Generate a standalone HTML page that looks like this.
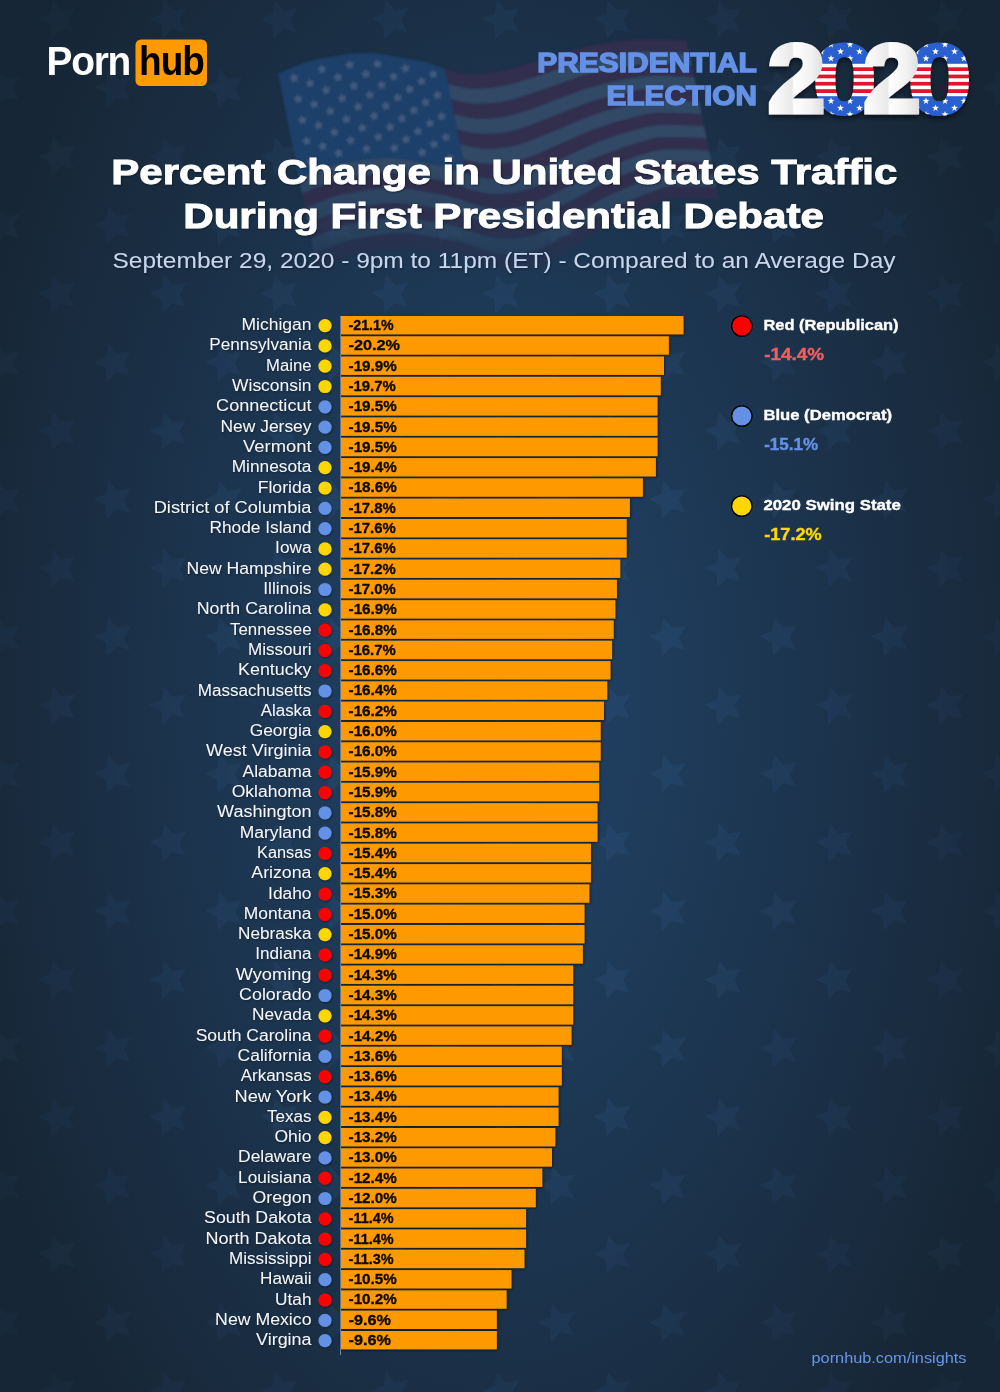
<!DOCTYPE html>
<html lang="en"><head><meta charset="utf-8"><title>Percent Change in United States Traffic During First Presidential Debate</title>
<style>
html,body{margin:0;padding:0;background:#172636;}
body{width:1000px;height:1392px;overflow:hidden;}
svg{display:block;font-family:"Liberation Sans",Arial,sans-serif;}
.st{font-size:16px;fill:#f4f6fa;text-anchor:end;}
.val{font-size:14px;font-weight:700;fill:#0a0a0a;stroke:#0a0a0a;stroke-width:0.3;}
.lg{font-size:14.6px;font-weight:700;fill:#ffffff;stroke:#ffffff;stroke-width:0.35;}
.lv{font-size:17.4px;font-weight:700;}
.ttl{font-size:35px;font-weight:700;fill:#ffffff;stroke:#ffffff;stroke-width:0.9;}
.sub{font-size:22.5px;fill:#c7d6ef;}
.pe{font-size:27px;font-weight:700;fill:#6491e6;stroke:#6491e6;stroke-width:1.4;text-anchor:end;}
</style></head><body>
<svg width="1000" height="1392" viewBox="0 0 1000 1392">
<defs>
<radialGradient id="bg" cx="0" cy="0" r="1" gradientUnits="userSpaceOnUse" gradientTransform="translate(500 696) scale(560 1010)">
<stop offset="0" stop-color="#214164"/><stop offset="0.25" stop-color="#1f3d5d"/><stop offset="1" stop-color="#172636"/>
</radialGradient>
<radialGradient id="smg" cx="0" cy="0" r="1" gradientUnits="userSpaceOnUse" gradientTransform="translate(500 696) scale(560 1010)">
<stop offset="0" stop-color="#ffffff"/><stop offset="0.4" stop-color="#e0e0e0"/><stop offset="1" stop-color="#6a6a6a"/>
</radialGradient>
<mask id="smask" maskUnits="userSpaceOnUse" x="0" y="0" width="1000" height="1392"><rect width="1000" height="1392" fill="url(#smg)"/></mask>
<filter id="sblur"><feGaussianBlur stdDeviation="0.7"/></filter>
<pattern id="bgstars" x="3" y="19.6" width="111" height="137.2" patternUnits="userSpaceOnUse">
<use href="#fstar" transform="translate(55.5 0) rotate(-16) scale(2.05)" fill="#5a9ae0"/>
<use href="#fstar" transform="translate(55.5 137.2) rotate(-16) scale(2.05)" fill="#5a9ae0"/>
<use href="#fstar" transform="translate(0 68.6) rotate(-16) scale(2.05)" fill="#5a9ae0"/>
<use href="#fstar" transform="translate(111 68.6) rotate(-16) scale(2.05)" fill="#5a9ae0"/>
</pattern>
<filter id="sh" x="-5%" y="-20%" width="110%" height="160%"><feDropShadow dx="0.7" dy="1" stdDeviation="1.5" flood-color="#000" flood-opacity="0.6"/></filter>
<filter id="tsh" x="-5%" y="-5%" width="110%" height="110%"><feDropShadow dx="0.8" dy="1" stdDeviation="1" flood-color="#000" flood-opacity="0.4"/></filter>
<filter id="sh2" x="-10%" y="-10%" width="120%" height="130%"><feDropShadow dx="0" dy="3" stdDeviation="2.5" flood-color="#000" flood-opacity="0.55"/></filter>
<path id="fstar" d="M0.00,-10.00 L2.82,-3.88 L9.51,-3.09 L4.57,1.48 L5.88,8.09 L0.00,4.80 L-5.88,8.09 L-4.57,1.48 L-9.51,-3.09 L-2.82,-3.88Z"/>
<path id="star" d="M0,-10 L2.35,-3.24 9.51,-3.09 3.8,1.24 5.88,8.09 0,4 -5.88,8.09 -3.8,1.24 -9.51,-3.09 -2.35,-3.24Z"/>
<linearGradient id="paper" x1="0" y1="0" x2="1" y2="0">
<stop offset="0" stop-color="#ffffff"/><stop offset="0.42" stop-color="#e9e9e9"/><stop offset="0.46" stop-color="#ffffff"/><stop offset="0.75" stop-color="#f2f2f2"/><stop offset="1" stop-color="#dcdcdc"/>
</linearGradient>
<pattern id="flagpat" x="0" y="42" width="19" height="74" patternUnits="userSpaceOnUse">
<rect x="0" y="0" width="19" height="74" fill="#2a5fd0"/>
<rect x="0" y="21.8" width="19" height="32.4" fill="#ffffff"/>
<rect x="0" y="25.3" width="19" height="3.7" fill="#e1122d"/>
<rect x="0" y="32.6" width="19" height="3.7" fill="#e1122d"/>
<rect x="0" y="39.9" width="19" height="3.7" fill="#e1122d"/>
<rect x="0" y="47.2" width="19" height="3.8" fill="#e1122d"/>
<use href="#star" transform="translate(4.5 9.5) scale(0.36)" fill="#fff"/>
<use href="#star" transform="translate(14 16.5) scale(0.36)" fill="#fff"/>
<use href="#star" transform="translate(14 2.5) scale(0.36)" fill="#fff"/>
<use href="#star" transform="translate(4.5 66) scale(0.36)" fill="#fff"/>
<use href="#star" transform="translate(14 59) scale(0.36)" fill="#fff"/>
<use href="#star" transform="translate(14 72.5) scale(0.36)" fill="#fff"/>
</pattern>
</defs>
<rect width="1000" height="1392" fill="url(#bg)"/>
<g mask="url(#smask)"><rect width="1000" height="1392" fill="url(#bgstars)" opacity="0.085" filter="url(#sblur)"/></g>

<defs><linearGradient id="ffade" x1="0" y1="0" x2="0" y2="1" gradientUnits="userSpaceOnUse" gradientTransform="translate(0 160) scale(1 130)"><stop offset="0" stop-color="#fff"/><stop offset="0.5" stop-color="#aaa"/><stop offset="1" stop-color="#000"/></linearGradient>
<mask id="fmask" maskUnits="userSpaceOnUse" x="250" y="30" width="500" height="260"><rect x="250" y="30" width="500" height="260" fill="url(#ffade)"/></mask>
<filter id="fblur"><feGaussianBlur stdDeviation="0.8"/></filter></defs>
<g mask="url(#fmask)"><g filter="url(#fblur)">
<path d="M445.0,69.0 L452.0,71.0 L459.0,72.6 L466.0,73.6 L473.0,73.8 L480.0,73.5 L487.0,72.9 L494.0,71.9 L501.0,70.7 L508.0,69.2 L515.0,67.5 L522.0,65.5 L529.0,63.5 L536.0,61.4 L543.0,59.2 L550.0,57.0 L557.0,54.8 L564.0,52.5 L571.0,50.3 L578.0,48.5 L585.0,46.9 L592.0,45.5 L599.0,44.2 L606.0,43.0 L613.0,42.0 L620.0,41.1 L627.0,40.3 L634.0,39.8 L641.0,39.5 L648.0,39.4 L655.0,39.5 L662.0,39.5 L669.0,39.8 L676.0,40.2 L683.0,40.6 L687.0,40.8 L689.4,53.0 L685.4,52.8 L678.4,52.4 L671.4,52.0 L664.4,51.7 L657.4,51.7 L650.4,51.6 L643.4,51.7 L636.5,52.1 L629.5,52.8 L622.5,53.7 L615.5,54.7 L608.6,55.9 L601.6,57.2 L594.6,58.7 L587.7,60.2 L580.7,61.9 L573.7,63.9 L566.7,66.2 L559.8,68.6 L552.8,71.0 L545.8,73.3 L538.9,75.7 L531.9,77.9 L524.9,80.1 L517.9,82.2 L511.0,84.0 L504.0,85.6 L497.0,86.9 L490.0,87.9 L483.0,88.5 L476.0,88.8 L469.0,88.6 L462.0,87.6 L455.0,86.0 L448.0,84.0Z M451.0,99.0 L458.0,101.0 L465.0,102.6 L472.0,103.6 L479.0,103.8 L486.0,103.5 L493.0,102.9 L500.0,101.9 L507.0,100.6 L513.9,98.9 L520.9,96.9 L527.8,94.6 L534.8,92.3 L541.7,89.9 L548.7,87.5 L555.6,85.0 L562.5,82.5 L569.5,79.9 L576.4,77.5 L583.4,75.3 L590.3,73.5 L597.3,71.8 L604.2,70.3 L611.2,68.8 L618.1,67.5 L625.0,66.3 L632.0,65.2 L638.9,64.4 L645.9,63.9 L652.9,63.8 L659.9,63.9 L666.9,63.9 L673.9,64.2 L680.9,64.6 L687.9,65.0 L691.9,65.2 L694.3,77.4 L690.3,77.2 L683.3,76.8 L676.3,76.4 L669.3,76.1 L662.3,76.1 L655.3,76.0 L648.3,76.1 L641.4,76.8 L634.5,77.7 L627.6,78.9 L620.6,80.2 L613.7,81.7 L606.8,83.3 L599.9,85.0 L593.0,86.8 L586.1,88.8 L579.1,91.1 L572.2,93.7 L565.3,96.4 L558.4,99.0 L551.5,101.6 L544.6,104.2 L537.7,106.8 L530.7,109.2 L523.8,111.6 L516.9,113.7 L510.0,115.6 L503.0,116.9 L496.0,117.9 L489.0,118.5 L482.0,118.8 L475.0,118.6 L468.0,117.6 L461.0,116.0 L454.0,114.0Z M457.0,129.0 L464.0,131.0 L471.0,132.6 L478.0,133.6 L485.0,133.8 L492.0,133.5 L499.0,132.9 L506.0,131.9 L513.0,130.6 L519.9,128.5 L526.8,126.3 L533.6,123.8 L540.5,121.2 L547.4,118.5 L554.3,115.7 L561.2,113.0 L568.1,110.2 L575.0,107.4 L581.9,104.7 L588.8,102.2 L595.6,100.1 L602.5,98.2 L609.4,96.3 L616.3,94.6 L623.2,92.9 L630.1,91.5 L637.0,90.1 L643.9,89.1 L650.8,88.3 L657.8,88.2 L664.8,88.3 L671.8,88.3 L678.8,88.6 L685.8,89.0 L692.8,89.4 L696.8,89.6 L699.2,101.8 L695.2,101.6 L688.2,101.2 L681.2,100.8 L674.2,100.5 L667.2,100.5 L660.2,100.4 L653.2,100.5 L646.3,101.4 L639.5,102.6 L632.6,104.1 L625.7,105.7 L618.9,107.4 L612.0,109.3 L605.2,111.3 L598.3,113.4 L591.4,115.7 L584.6,118.2 L577.7,121.1 L570.9,124.1 L564.0,127.0 L557.1,129.9 L550.3,132.8 L543.4,135.6 L536.6,138.3 L529.7,141.0 L522.8,143.4 L516.0,145.6 L509.0,146.9 L502.0,147.9 L495.0,148.5 L488.0,148.8 L481.0,148.6 L474.0,147.6 L467.0,146.0 L460.0,144.0Z M463.0,159.0 L470.0,161.0 L477.0,162.6 L484.0,163.6 L491.0,163.8 L498.0,163.5 L505.0,162.9 L512.0,161.9 L519.0,160.5 L525.8,158.2 L532.6,155.7 L539.5,152.9 L546.3,150.0 L553.1,147.1 L560.0,144.0 L566.8,141.0 L573.6,137.9 L580.5,134.8 L587.3,131.8 L594.1,129.1 L601.0,126.7 L607.8,124.5 L614.6,122.3 L621.5,120.3 L628.3,118.4 L635.1,116.7 L642.0,115.1 L648.8,113.7 L655.6,112.7 L662.6,112.6 L669.6,112.7 L676.6,112.7 L683.6,113.0 L690.6,113.4 L697.6,113.8 L701.6,114.0 L704.1,126.2 L700.1,126.0 L693.1,125.6 L686.1,125.2 L679.1,124.9 L672.1,124.9 L665.1,124.8 L658.1,124.9 L651.2,126.0 L644.4,127.5 L637.6,129.3 L630.8,131.2 L624.0,133.2 L617.2,135.4 L610.4,137.6 L603.6,140.0 L596.8,142.5 L590.0,145.4 L583.2,148.5 L576.4,151.8 L569.6,155.0 L562.8,158.2 L556.0,161.3 L549.2,164.4 L542.4,167.4 L535.6,170.4 L528.8,173.1 L522.0,175.5 L515.0,176.9 L508.0,177.9 L501.0,178.5 L494.0,178.8 L487.0,178.6 L480.0,177.6 L473.0,176.0 L466.0,174.0Z M302.0,193.6 L309.0,190.5 L316.0,187.5 L323.0,184.7 L330.0,182.2 L337.0,180.2 L344.0,178.7 L351.0,177.4 L358.0,176.3 L365.0,175.3 L372.0,174.3 L379.0,173.5 L386.0,173.0 L393.0,173.0 L400.0,173.6 L407.0,174.5 L414.0,175.6 L421.0,176.8 L428.0,178.0 L435.0,179.2 L442.0,180.5 L449.0,182.0 L456.0,184.1 L463.0,186.9 L470.0,189.3 L477.0,191.2 L484.0,192.8 L491.0,193.7 L498.0,193.8 L505.0,193.4 L512.0,192.8 L519.0,191.8 L525.9,190.1 L532.7,187.5 L539.5,184.6 L546.3,181.6 L553.0,178.4 L559.8,175.2 L566.6,171.8 L573.4,168.5 L580.1,165.2 L586.9,161.8 L593.7,158.5 L600.5,155.6 L607.2,153.0 L614.0,150.4 L620.8,148.0 L627.6,145.8 L634.4,143.6 L641.1,141.6 L647.9,139.7 L654.7,138.1 L661.5,137.1 L668.5,137.0 L675.5,137.1 L682.5,137.1 L689.5,137.4 L696.5,137.8 L703.5,138.3 L706.5,138.4 L709.0,150.6 L706.0,150.5 L699.0,150.0 L692.0,149.6 L685.0,149.3 L678.0,149.3 L671.0,149.2 L664.0,149.3 L657.1,150.4 L650.4,152.2 L643.6,154.2 L636.9,156.3 L630.1,158.6 L623.4,161.0 L616.7,163.6 L609.9,166.2 L603.2,169.0 L596.4,172.1 L589.7,175.5 L582.9,179.0 L576.2,182.5 L569.4,185.9 L562.7,189.4 L555.9,192.8 L549.2,196.1 L542.4,199.3 L535.7,202.3 L528.9,205.1 L522.0,206.8 L515.0,207.8 L508.0,208.4 L501.0,208.8 L494.0,208.7 L487.0,207.8 L480.0,206.2 L473.0,204.3 L466.0,201.9 L459.0,199.1 L452.0,197.0 L445.0,195.5 L438.0,194.2 L431.0,193.0 L424.0,191.8 L417.0,190.6 L410.0,189.5 L403.0,188.6 L396.0,188.0 L389.0,188.0 L382.0,188.5 L375.0,189.3 L368.0,190.3 L361.0,191.3 L354.0,192.4 L347.0,193.7 L340.0,195.2 L333.0,197.2 L326.0,199.7 L319.0,202.5 L312.0,205.5 L305.0,208.6Z M308.0,223.6 L315.0,220.5 L322.0,217.5 L329.0,214.7 L336.0,212.2 L343.0,210.2 L350.0,208.7 L357.0,207.4 L364.0,206.3 L371.0,205.3 L378.0,204.3 L385.0,203.5 L392.0,203.0 L399.0,203.0 L406.0,203.6 L413.0,204.5 L420.0,205.6 L427.0,206.8 L434.0,208.0 L441.0,209.2 L448.0,210.5 L455.0,212.0 L462.0,214.1 L469.0,216.9 L476.0,219.3 L483.0,221.2 L490.0,222.8 L497.0,223.7 L504.0,223.8 L511.0,223.4 L518.0,222.8 L525.0,221.8 L531.9,220.1 L538.6,217.1 L545.4,214.0 L552.1,210.6 L558.8,207.2 L565.5,203.7 L572.2,200.1 L579.0,196.5 L585.7,192.9 L592.4,189.2 L599.1,185.6 L605.8,182.4 L612.6,179.5 L619.3,176.7 L626.0,174.0 L632.7,171.5 L639.4,169.0 L646.2,166.7 L652.9,164.6 L659.6,162.7 L666.4,161.5 L673.4,161.4 L680.4,161.5 L687.4,161.5 L694.4,161.8 L701.4,162.2 L708.4,162.7 L711.4,162.8 L713.8,175.0 L710.8,174.9 L703.8,174.4 L696.8,174.0 L689.8,173.7 L682.8,173.7 L675.8,173.6 L668.8,173.7 L662.1,175.0 L655.4,177.1 L648.7,179.3 L642.0,181.8 L635.3,184.3 L628.6,187.0 L621.9,189.9 L615.2,192.8 L608.5,195.8 L601.8,199.2 L595.1,202.9 L588.4,206.7 L581.8,210.5 L575.1,214.2 L568.4,217.9 L561.7,221.6 L555.0,225.2 L548.3,228.7 L541.6,232.0 L534.9,235.0 L528.0,236.8 L521.0,237.8 L514.0,238.4 L507.0,238.8 L500.0,238.7 L493.0,237.8 L486.0,236.2 L479.0,234.3 L472.0,231.9 L465.0,229.1 L458.0,227.0 L451.0,225.5 L444.0,224.2 L437.0,223.0 L430.0,221.8 L423.0,220.6 L416.0,219.5 L409.0,218.6 L402.0,218.0 L395.0,218.0 L388.0,218.5 L381.0,219.3 L374.0,220.3 L367.0,221.3 L360.0,222.4 L353.0,223.7 L346.0,225.2 L339.0,227.2 L332.0,229.7 L325.0,232.5 L318.0,235.5 L311.0,238.6Z M314.0,253.6 L321.0,250.5 L328.0,247.5 L335.0,244.7 L342.0,242.2 L349.0,240.2 L356.0,238.7 L363.0,237.4 L370.0,236.3 L377.0,235.3 L384.0,234.3 L391.0,233.5 L398.0,233.0 L405.0,233.0 L412.0,233.6 L419.0,234.5 L426.0,235.6 L433.0,236.8 L440.0,238.0 L447.0,239.2 L454.0,240.5 L461.0,242.0 L468.0,244.1 L475.0,246.9 L482.0,249.3 L489.0,251.2 L496.0,252.8 L503.0,253.7 L510.0,253.8 L517.0,253.4 L524.0,252.8 L531.0,251.8 L537.9,250.0 L544.6,246.8 L551.2,243.3 L557.9,239.7 L564.6,236.0 L571.2,232.2 L577.9,228.3 L584.6,224.5 L591.2,220.5 L597.9,216.6 L604.5,212.8 L611.2,209.3 L617.9,206.1 L624.5,203.0 L631.2,200.0 L637.9,197.2 L644.5,194.5 L651.2,191.9 L657.9,189.5 L664.5,187.3 L671.3,185.9 L678.3,185.8 L685.3,185.9 L692.3,185.9 L699.3,186.2 L706.3,186.6 L713.3,187.1 L716.3,187.2 L718.7,199.4 L715.7,199.3 L708.7,198.8 L701.7,198.4 L694.7,198.1 L687.7,198.1 L680.7,198.0 L673.7,198.1 L667.0,199.6 L660.3,201.9 L653.7,204.5 L647.1,207.2 L640.4,210.1 L633.8,213.0 L627.2,216.1 L620.5,219.4 L613.9,222.7 L607.3,226.3 L600.6,230.3 L594.0,234.4 L587.3,238.4 L580.7,242.4 L574.1,246.5 L567.4,250.4 L560.8,254.3 L554.2,258.0 L547.5,261.6 L540.9,264.9 L534.0,266.8 L527.0,267.8 L520.0,268.4 L513.0,268.8 L506.0,268.7 L499.0,267.8 L492.0,266.2 L485.0,264.3 L478.0,261.9 L471.0,259.1 L464.0,257.0 L457.0,255.5 L450.0,254.2 L443.0,253.0 L436.0,251.8 L429.0,250.6 L422.0,249.5 L415.0,248.6 L408.0,248.0 L401.0,248.0 L394.0,248.5 L387.0,249.3 L380.0,250.3 L373.0,251.3 L366.0,252.4 L359.0,253.7 L352.0,255.2 L345.0,257.2 L338.0,259.7 L331.0,262.5 L324.0,265.5 L317.0,268.6Z" fill="#332d4e"/>
<path d="M448.0,84.0 L455.0,86.0 L462.0,87.6 L469.0,88.6 L476.0,88.8 L483.0,88.5 L490.0,87.9 L497.0,86.9 L504.0,85.6 L511.0,84.0 L517.9,82.2 L524.9,80.1 L531.9,77.9 L538.9,75.7 L545.8,73.3 L552.8,71.0 L559.8,68.6 L566.7,66.2 L573.7,63.9 L580.7,61.9 L587.7,60.2 L594.6,58.7 L601.6,57.2 L608.6,55.9 L615.5,54.7 L622.5,53.7 L629.5,52.8 L636.5,52.1 L643.4,51.7 L650.4,51.6 L657.4,51.7 L664.4,51.7 L671.4,52.0 L678.4,52.4 L685.4,52.8 L689.4,53.0 L691.9,65.2 L687.9,65.0 L680.9,64.6 L673.9,64.2 L666.9,63.9 L659.9,63.9 L652.9,63.8 L645.9,63.9 L638.9,64.4 L632.0,65.2 L625.0,66.3 L618.1,67.5 L611.2,68.8 L604.2,70.3 L597.3,71.8 L590.3,73.5 L583.4,75.3 L576.4,77.5 L569.5,79.9 L562.5,82.5 L555.6,85.0 L548.7,87.5 L541.7,89.9 L534.8,92.3 L527.8,94.6 L520.9,96.9 L513.9,98.9 L507.0,100.6 L500.0,101.9 L493.0,102.9 L486.0,103.5 L479.0,103.8 L472.0,103.6 L465.0,102.6 L458.0,101.0 L451.0,99.0Z M454.0,114.0 L461.0,116.0 L468.0,117.6 L475.0,118.6 L482.0,118.8 L489.0,118.5 L496.0,117.9 L503.0,116.9 L510.0,115.6 L516.9,113.7 L523.8,111.6 L530.7,109.2 L537.7,106.8 L544.6,104.2 L551.5,101.6 L558.4,99.0 L565.3,96.4 L572.2,93.7 L579.1,91.1 L586.1,88.8 L593.0,86.8 L599.9,85.0 L606.8,83.3 L613.7,81.7 L620.6,80.2 L627.6,78.9 L634.5,77.7 L641.4,76.8 L648.3,76.1 L655.3,76.0 L662.3,76.1 L669.3,76.1 L676.3,76.4 L683.3,76.8 L690.3,77.2 L694.3,77.4 L696.8,89.6 L692.8,89.4 L685.8,89.0 L678.8,88.6 L671.8,88.3 L664.8,88.3 L657.8,88.2 L650.8,88.3 L643.9,89.1 L637.0,90.1 L630.1,91.5 L623.2,92.9 L616.3,94.6 L609.4,96.3 L602.5,98.2 L595.6,100.1 L588.8,102.2 L581.9,104.7 L575.0,107.4 L568.1,110.2 L561.2,113.0 L554.3,115.7 L547.4,118.5 L540.5,121.2 L533.6,123.8 L526.8,126.3 L519.9,128.5 L513.0,130.6 L506.0,131.9 L499.0,132.9 L492.0,133.5 L485.0,133.8 L478.0,133.6 L471.0,132.6 L464.0,131.0 L457.0,129.0Z M460.0,144.0 L467.0,146.0 L474.0,147.6 L481.0,148.6 L488.0,148.8 L495.0,148.5 L502.0,147.9 L509.0,146.9 L516.0,145.6 L522.8,143.4 L529.7,141.0 L536.6,138.3 L543.4,135.6 L550.3,132.8 L557.1,129.9 L564.0,127.0 L570.9,124.1 L577.7,121.1 L584.6,118.2 L591.4,115.7 L598.3,113.4 L605.2,111.3 L612.0,109.3 L618.9,107.4 L625.7,105.7 L632.6,104.1 L639.5,102.6 L646.3,101.4 L653.2,100.5 L660.2,100.4 L667.2,100.5 L674.2,100.5 L681.2,100.8 L688.2,101.2 L695.2,101.6 L699.2,101.8 L701.6,114.0 L697.6,113.8 L690.6,113.4 L683.6,113.0 L676.6,112.7 L669.6,112.7 L662.6,112.6 L655.6,112.7 L648.8,113.7 L642.0,115.1 L635.1,116.7 L628.3,118.4 L621.5,120.3 L614.6,122.3 L607.8,124.5 L601.0,126.7 L594.1,129.1 L587.3,131.8 L580.5,134.8 L573.6,137.9 L566.8,141.0 L560.0,144.0 L553.1,147.1 L546.3,150.0 L539.5,152.9 L532.6,155.7 L525.8,158.2 L519.0,160.5 L512.0,161.9 L505.0,162.9 L498.0,163.5 L491.0,163.8 L484.0,163.6 L477.0,162.6 L470.0,161.0 L463.0,159.0Z M299.0,178.6 L306.0,175.5 L313.0,172.5 L320.0,169.7 L327.0,167.2 L334.0,165.2 L341.0,163.7 L348.0,162.4 L355.0,161.3 L362.0,160.3 L369.0,159.3 L376.0,158.5 L383.0,158.0 L390.0,158.0 L397.0,158.6 L404.0,159.5 L411.0,160.6 L418.0,161.8 L425.0,163.0 L432.0,164.2 L439.0,165.5 L446.0,167.0 L453.0,169.1 L460.0,171.9 L467.0,174.3 L474.0,176.2 L481.0,177.8 L488.0,178.7 L495.0,178.8 L502.0,178.4 L509.0,177.8 L516.0,176.8 L522.9,175.2 L529.7,172.7 L536.6,169.9 L543.4,167.0 L550.2,164.0 L557.0,160.9 L563.8,157.7 L570.6,154.6 L577.4,151.3 L584.2,148.1 L591.0,145.0 L597.8,142.2 L604.6,139.7 L611.4,137.3 L618.2,135.0 L625.0,132.9 L631.8,130.9 L638.6,129.0 L645.4,127.3 L652.2,125.8 L659.1,124.9 L666.1,124.8 L673.1,124.9 L680.1,124.9 L687.1,125.2 L694.1,125.6 L701.1,126.1 L704.1,126.2 L706.5,138.4 L703.5,138.3 L696.5,137.8 L689.5,137.4 L682.5,137.1 L675.5,137.1 L668.5,137.0 L661.5,137.1 L654.7,138.1 L647.9,139.7 L641.1,141.6 L634.4,143.6 L627.6,145.8 L620.8,148.0 L614.0,150.4 L607.2,153.0 L600.5,155.6 L593.7,158.5 L586.9,161.8 L580.1,165.2 L573.4,168.5 L566.6,171.8 L559.8,175.2 L553.0,178.4 L546.3,181.6 L539.5,184.6 L532.7,187.5 L525.9,190.1 L519.0,191.8 L512.0,192.8 L505.0,193.4 L498.0,193.8 L491.0,193.7 L484.0,192.8 L477.0,191.2 L470.0,189.3 L463.0,186.9 L456.0,184.1 L449.0,182.0 L442.0,180.5 L435.0,179.2 L428.0,178.0 L421.0,176.8 L414.0,175.6 L407.0,174.5 L400.0,173.6 L393.0,173.0 L386.0,173.0 L379.0,173.5 L372.0,174.3 L365.0,175.3 L358.0,176.3 L351.0,177.4 L344.0,178.7 L337.0,180.2 L330.0,182.2 L323.0,184.7 L316.0,187.5 L309.0,190.5 L302.0,193.6Z M305.0,208.6 L312.0,205.5 L319.0,202.5 L326.0,199.7 L333.0,197.2 L340.0,195.2 L347.0,193.7 L354.0,192.4 L361.0,191.3 L368.0,190.3 L375.0,189.3 L382.0,188.5 L389.0,188.0 L396.0,188.0 L403.0,188.6 L410.0,189.5 L417.0,190.6 L424.0,191.8 L431.0,193.0 L438.0,194.2 L445.0,195.5 L452.0,197.0 L459.0,199.1 L466.0,201.9 L473.0,204.3 L480.0,206.2 L487.0,207.8 L494.0,208.7 L501.0,208.8 L508.0,208.4 L515.0,207.8 L522.0,206.8 L528.9,205.1 L535.7,202.3 L542.4,199.3 L549.2,196.1 L555.9,192.8 L562.7,189.4 L569.4,185.9 L576.2,182.5 L582.9,179.0 L589.7,175.5 L596.4,172.1 L603.2,169.0 L609.9,166.2 L616.7,163.6 L623.4,161.0 L630.1,158.6 L636.9,156.3 L643.6,154.2 L650.4,152.2 L657.1,150.4 L664.0,149.3 L671.0,149.2 L678.0,149.3 L685.0,149.3 L692.0,149.6 L699.0,150.0 L706.0,150.5 L709.0,150.6 L711.4,162.8 L708.4,162.7 L701.4,162.2 L694.4,161.8 L687.4,161.5 L680.4,161.5 L673.4,161.4 L666.4,161.5 L659.6,162.7 L652.9,164.6 L646.2,166.7 L639.4,169.0 L632.7,171.5 L626.0,174.0 L619.3,176.7 L612.6,179.5 L605.8,182.4 L599.1,185.6 L592.4,189.2 L585.7,192.9 L579.0,196.5 L572.2,200.1 L565.5,203.7 L558.8,207.2 L552.1,210.6 L545.4,214.0 L538.6,217.1 L531.9,220.1 L525.0,221.8 L518.0,222.8 L511.0,223.4 L504.0,223.8 L497.0,223.7 L490.0,222.8 L483.0,221.2 L476.0,219.3 L469.0,216.9 L462.0,214.1 L455.0,212.0 L448.0,210.5 L441.0,209.2 L434.0,208.0 L427.0,206.8 L420.0,205.6 L413.0,204.5 L406.0,203.6 L399.0,203.0 L392.0,203.0 L385.0,203.5 L378.0,204.3 L371.0,205.3 L364.0,206.3 L357.0,207.4 L350.0,208.7 L343.0,210.2 L336.0,212.2 L329.0,214.7 L322.0,217.5 L315.0,220.5 L308.0,223.6Z M311.0,238.6 L318.0,235.5 L325.0,232.5 L332.0,229.7 L339.0,227.2 L346.0,225.2 L353.0,223.7 L360.0,222.4 L367.0,221.3 L374.0,220.3 L381.0,219.3 L388.0,218.5 L395.0,218.0 L402.0,218.0 L409.0,218.6 L416.0,219.5 L423.0,220.6 L430.0,221.8 L437.0,223.0 L444.0,224.2 L451.0,225.5 L458.0,227.0 L465.0,229.1 L472.0,231.9 L479.0,234.3 L486.0,236.2 L493.0,237.8 L500.0,238.7 L507.0,238.8 L514.0,238.4 L521.0,237.8 L528.0,236.8 L534.9,235.0 L541.6,232.0 L548.3,228.7 L555.0,225.2 L561.7,221.6 L568.4,217.9 L575.1,214.2 L581.8,210.5 L588.4,206.7 L595.1,202.9 L601.8,199.2 L608.5,195.8 L615.2,192.8 L621.9,189.9 L628.6,187.0 L635.3,184.3 L642.0,181.8 L648.7,179.3 L655.4,177.1 L662.1,175.0 L668.8,173.7 L675.8,173.6 L682.8,173.7 L689.8,173.7 L696.8,174.0 L703.8,174.4 L710.8,174.9 L713.8,175.0 L716.3,187.2 L713.3,187.1 L706.3,186.6 L699.3,186.2 L692.3,185.9 L685.3,185.9 L678.3,185.8 L671.3,185.9 L664.5,187.3 L657.9,189.5 L651.2,191.9 L644.5,194.5 L637.9,197.2 L631.2,200.0 L624.5,203.0 L617.9,206.1 L611.2,209.3 L604.5,212.8 L597.9,216.6 L591.2,220.5 L584.6,224.5 L577.9,228.3 L571.2,232.2 L564.6,236.0 L557.9,239.7 L551.2,243.3 L544.6,246.8 L537.9,250.0 L531.0,251.8 L524.0,252.8 L517.0,253.4 L510.0,253.8 L503.0,253.7 L496.0,252.8 L489.0,251.2 L482.0,249.3 L475.0,246.9 L468.0,244.1 L461.0,242.0 L454.0,240.5 L447.0,239.2 L440.0,238.0 L433.0,236.8 L426.0,235.6 L419.0,234.5 L412.0,233.6 L405.0,233.0 L398.0,233.0 L391.0,233.5 L384.0,234.3 L377.0,235.3 L370.0,236.3 L363.0,237.4 L356.0,238.7 L349.0,240.2 L342.0,242.2 L335.0,244.7 L328.0,247.5 L321.0,250.5 L314.0,253.6Z" fill="#324a66"/>
<path d="M278.0,73.6 L285.0,70.5 L292.0,67.5 L299.0,64.7 L306.0,62.2 L313.0,60.2 L320.0,58.7 L327.0,57.4 L334.0,56.3 L341.0,55.3 L348.0,54.3 L355.0,53.5 L362.0,53.0 L369.0,53.0 L376.0,53.6 L383.0,54.5 L390.0,55.6 L397.0,56.8 L404.0,58.0 L411.0,59.2 L418.0,60.5 L425.0,62.0 L432.0,64.1 L439.0,66.9 L445.0,69.0 L466.0,174.0 L460.0,171.9 L453.0,169.1 L446.0,167.0 L439.0,165.5 L432.0,164.2 L425.0,163.0 L418.0,161.8 L411.0,160.6 L404.0,159.5 L397.0,158.6 L390.0,158.0 L383.0,158.0 L376.0,158.5 L369.0,159.3 L362.0,160.3 L355.0,161.3 L348.0,162.4 L341.0,163.7 L334.0,165.2 L327.0,167.2 L320.0,169.7 L313.0,172.5 L306.0,175.5 L299.0,178.6Z" fill="#1f3f69"/>
<g fill="#435c80"><use href="#fstar" transform="translate(294.0 78.0) rotate(-12) scale(0.52)"/><use href="#fstar" transform="translate(321.9 69.2) rotate(-12) scale(0.52)"/><use href="#fstar" transform="translate(349.7 64.9) rotate(-12) scale(0.52)"/><use href="#fstar" transform="translate(377.5 64.0) rotate(-12) scale(0.52)"/><use href="#fstar" transform="translate(405.4 68.4) rotate(-12) scale(0.52)"/><use href="#fstar" transform="translate(433.2 74.3) rotate(-12) scale(0.52)"/><use href="#fstar" transform="translate(310.0 83.3) rotate(-12) scale(0.52)"/><use href="#fstar" transform="translate(337.9 77.4) rotate(-12) scale(0.52)"/><use href="#fstar" transform="translate(365.7 74.0) rotate(-12) scale(0.52)"/><use href="#fstar" transform="translate(393.5 76.5) rotate(-12) scale(0.52)"/><use href="#fstar" transform="translate(421.4 81.3) rotate(-12) scale(0.52)"/><use href="#fstar" transform="translate(298.2 99.0) rotate(-12) scale(0.52)"/><use href="#fstar" transform="translate(326.1 90.2) rotate(-12) scale(0.52)"/><use href="#fstar" transform="translate(353.9 85.9) rotate(-12) scale(0.52)"/><use href="#fstar" transform="translate(381.7 85.0) rotate(-12) scale(0.52)"/><use href="#fstar" transform="translate(409.6 89.4) rotate(-12) scale(0.52)"/><use href="#fstar" transform="translate(437.4 95.3) rotate(-12) scale(0.52)"/><use href="#fstar" transform="translate(314.2 104.3) rotate(-12) scale(0.52)"/><use href="#fstar" transform="translate(342.1 98.4) rotate(-12) scale(0.52)"/><use href="#fstar" transform="translate(369.9 95.0) rotate(-12) scale(0.52)"/><use href="#fstar" transform="translate(397.7 97.5) rotate(-12) scale(0.52)"/><use href="#fstar" transform="translate(425.6 102.3) rotate(-12) scale(0.52)"/><use href="#fstar" transform="translate(302.4 120.0) rotate(-12) scale(0.52)"/><use href="#fstar" transform="translate(330.2 111.2) rotate(-12) scale(0.52)"/><use href="#fstar" transform="translate(358.1 106.9) rotate(-12) scale(0.52)"/><use href="#fstar" transform="translate(385.9 106.0) rotate(-12) scale(0.52)"/><use href="#fstar" transform="translate(413.8 110.4) rotate(-12) scale(0.52)"/><use href="#fstar" transform="translate(441.6 116.3) rotate(-12) scale(0.52)"/><use href="#fstar" transform="translate(318.4 125.3) rotate(-12) scale(0.52)"/><use href="#fstar" transform="translate(346.3 119.4) rotate(-12) scale(0.52)"/><use href="#fstar" transform="translate(374.1 116.0) rotate(-12) scale(0.52)"/><use href="#fstar" transform="translate(401.9 118.5) rotate(-12) scale(0.52)"/><use href="#fstar" transform="translate(429.8 123.3) rotate(-12) scale(0.52)"/><use href="#fstar" transform="translate(306.6 141.0) rotate(-12) scale(0.52)"/><use href="#fstar" transform="translate(334.4 132.2) rotate(-12) scale(0.52)"/><use href="#fstar" transform="translate(362.3 127.9) rotate(-12) scale(0.52)"/><use href="#fstar" transform="translate(390.1 127.0) rotate(-12) scale(0.52)"/><use href="#fstar" transform="translate(417.9 131.4) rotate(-12) scale(0.52)"/><use href="#fstar" transform="translate(445.8 137.3) rotate(-12) scale(0.52)"/><use href="#fstar" transform="translate(322.6 146.3) rotate(-12) scale(0.52)"/><use href="#fstar" transform="translate(350.5 140.4) rotate(-12) scale(0.52)"/><use href="#fstar" transform="translate(378.3 137.0) rotate(-12) scale(0.52)"/><use href="#fstar" transform="translate(406.1 139.5) rotate(-12) scale(0.52)"/><use href="#fstar" transform="translate(434.0 144.3) rotate(-12) scale(0.52)"/><use href="#fstar" transform="translate(310.8 162.0) rotate(-12) scale(0.52)"/><use href="#fstar" transform="translate(338.6 153.2) rotate(-12) scale(0.52)"/><use href="#fstar" transform="translate(366.5 148.9) rotate(-12) scale(0.52)"/><use href="#fstar" transform="translate(394.3 148.0) rotate(-12) scale(0.52)"/><use href="#fstar" transform="translate(422.1 152.4) rotate(-12) scale(0.52)"/><use href="#fstar" transform="translate(450.0 158.3) rotate(-12) scale(0.52)"/></g>
</g></g>
<text x="46.5" y="74.5" font-size="40" font-weight="700" fill="#ffffff" letter-spacing="-1.3" textLength="83.5" lengthAdjust="spacingAndGlyphs">Porn</text>
<rect x="135.5" y="39.5" width="71.5" height="46.5" rx="5.5" fill="#ff9900"/>
<text x="139" y="74.8" font-size="40" font-weight="700" fill="#000000" letter-spacing="-1" textLength="65" lengthAdjust="spacingAndGlyphs">hub</text>
<text class="pe" x="756.8" y="72" textLength="219.5" lengthAdjust="spacingAndGlyphs">PRESIDENTIAL</text>
<text class="pe" x="757" y="104.8" textLength="150.5" lengthAdjust="spacingAndGlyphs">ELECTION</text>
<g filter="url(#sh2)" font-weight="700" font-size="96" stroke-linejoin="round">
<text x="813" y="112.6" font-size="99" fill="url(#flagpat)" stroke="url(#flagpat)" stroke-width="4" textLength="63.4" lengthAdjust="spacingAndGlyphs">0</text>
<text x="768" y="112" fill="url(#paper)" stroke="url(#paper)" stroke-width="5" stroke-linejoin="miter" textLength="57" lengthAdjust="spacingAndGlyphs">2</text>
<text x="908" y="112.6" font-size="99" fill="url(#flagpat)" stroke="url(#flagpat)" stroke-width="4" textLength="63.4" lengthAdjust="spacingAndGlyphs">0</text>
<text x="863.5" y="112" fill="url(#paper)" stroke="url(#paper)" stroke-width="5" stroke-linejoin="miter" textLength="57" lengthAdjust="spacingAndGlyphs">2</text>
</g>
<g filter="url(#tsh)">
<text class="ttl" x="111.3" y="184" textLength="786" lengthAdjust="spacingAndGlyphs">Percent Change in United States Traffic</text>
<text class="ttl" x="183.3" y="228" textLength="640.5" lengthAdjust="spacingAndGlyphs">During First Presidential Debate</text>
<text class="sub" x="112.5" y="268" textLength="783" lengthAdjust="spacingAndGlyphs">September 29, 2020 - 9pm to 11pm (ET) - Compared to an Average Day</text>
</g>
<rect x="340.0" y="316" width="0.8" height="1039" fill="#8c9aae"/>
<g filter="url(#sh)">
<rect x="341.0" y="316.00" width="342.45" height="18.3" fill="#ff9900"/>
<rect x="341.0" y="336.30" width="327.85" height="18.3" fill="#ff9900"/>
<rect x="341.0" y="356.60" width="322.98" height="18.3" fill="#ff9900"/>
<rect x="341.0" y="376.90" width="319.73" height="18.3" fill="#ff9900"/>
<rect x="341.0" y="397.20" width="316.49" height="18.3" fill="#ff9900"/>
<rect x="341.0" y="417.50" width="316.49" height="18.3" fill="#ff9900"/>
<rect x="341.0" y="437.80" width="316.49" height="18.3" fill="#ff9900"/>
<rect x="341.0" y="458.10" width="314.86" height="18.3" fill="#ff9900"/>
<rect x="341.0" y="478.40" width="301.88" height="18.3" fill="#ff9900"/>
<rect x="341.0" y="498.70" width="288.89" height="18.3" fill="#ff9900"/>
<rect x="341.0" y="519.00" width="285.65" height="18.3" fill="#ff9900"/>
<rect x="341.0" y="539.30" width="285.65" height="18.3" fill="#ff9900"/>
<rect x="341.0" y="559.60" width="279.16" height="18.3" fill="#ff9900"/>
<rect x="341.0" y="579.90" width="275.91" height="18.3" fill="#ff9900"/>
<rect x="341.0" y="600.20" width="274.29" height="18.3" fill="#ff9900"/>
<rect x="341.0" y="620.50" width="272.66" height="18.3" fill="#ff9900"/>
<rect x="341.0" y="640.80" width="271.04" height="18.3" fill="#ff9900"/>
<rect x="341.0" y="661.10" width="269.42" height="18.3" fill="#ff9900"/>
<rect x="341.0" y="681.40" width="266.17" height="18.3" fill="#ff9900"/>
<rect x="341.0" y="701.70" width="262.93" height="18.3" fill="#ff9900"/>
<rect x="341.0" y="722.00" width="259.68" height="18.3" fill="#ff9900"/>
<rect x="341.0" y="742.30" width="259.68" height="18.3" fill="#ff9900"/>
<rect x="341.0" y="762.60" width="258.06" height="18.3" fill="#ff9900"/>
<rect x="341.0" y="782.90" width="258.06" height="18.3" fill="#ff9900"/>
<rect x="341.0" y="803.20" width="256.43" height="18.3" fill="#ff9900"/>
<rect x="341.0" y="823.50" width="256.43" height="18.3" fill="#ff9900"/>
<rect x="341.0" y="843.80" width="249.94" height="18.3" fill="#ff9900"/>
<rect x="341.0" y="864.10" width="249.94" height="18.3" fill="#ff9900"/>
<rect x="341.0" y="884.40" width="248.32" height="18.3" fill="#ff9900"/>
<rect x="341.0" y="904.70" width="243.45" height="18.3" fill="#ff9900"/>
<rect x="341.0" y="925.00" width="243.45" height="18.3" fill="#ff9900"/>
<rect x="341.0" y="945.30" width="241.83" height="18.3" fill="#ff9900"/>
<rect x="341.0" y="965.60" width="232.09" height="18.3" fill="#ff9900"/>
<rect x="341.0" y="985.90" width="232.09" height="18.3" fill="#ff9900"/>
<rect x="341.0" y="1006.20" width="232.09" height="18.3" fill="#ff9900"/>
<rect x="341.0" y="1026.50" width="230.47" height="18.3" fill="#ff9900"/>
<rect x="341.0" y="1046.80" width="220.73" height="18.3" fill="#ff9900"/>
<rect x="341.0" y="1067.10" width="220.73" height="18.3" fill="#ff9900"/>
<rect x="341.0" y="1087.40" width="217.48" height="18.3" fill="#ff9900"/>
<rect x="341.0" y="1107.70" width="217.48" height="18.3" fill="#ff9900"/>
<rect x="341.0" y="1128.00" width="214.24" height="18.3" fill="#ff9900"/>
<rect x="341.0" y="1148.30" width="210.99" height="18.3" fill="#ff9900"/>
<rect x="341.0" y="1168.60" width="201.25" height="18.3" fill="#ff9900"/>
<rect x="341.0" y="1188.90" width="194.76" height="18.3" fill="#ff9900"/>
<rect x="341.0" y="1209.20" width="185.02" height="18.3" fill="#ff9900"/>
<rect x="341.0" y="1229.50" width="185.02" height="18.3" fill="#ff9900"/>
<rect x="341.0" y="1249.80" width="183.40" height="18.3" fill="#ff9900"/>
<rect x="341.0" y="1270.10" width="170.41" height="18.3" fill="#ff9900"/>
<rect x="341.0" y="1290.40" width="165.55" height="18.3" fill="#ff9900"/>
<rect x="341.0" y="1310.70" width="155.81" height="18.3" fill="#ff9900"/>
<rect x="341.0" y="1331.00" width="155.81" height="18.3" fill="#ff9900"/>
</g>
<g filter="url(#tsh)">
<text class="st" x="311.5" y="330.10" textLength="70.0" lengthAdjust="spacingAndGlyphs">Michigan</text>
<circle cx="325" cy="325.60" r="6.6" fill="#ffd700"/>
<text class="st" x="311.5" y="350.40" textLength="102.2" lengthAdjust="spacingAndGlyphs">Pennsylvania</text>
<circle cx="325" cy="345.90" r="6.6" fill="#ffd700"/>
<text class="st" x="311.5" y="370.70" textLength="45.4" lengthAdjust="spacingAndGlyphs">Maine</text>
<circle cx="325" cy="366.20" r="6.6" fill="#ffd700"/>
<text class="st" x="311.5" y="391.00" textLength="79.4" lengthAdjust="spacingAndGlyphs">Wisconsin</text>
<circle cx="325" cy="386.50" r="6.6" fill="#ffd700"/>
<text class="st" x="311.5" y="411.30" textLength="95.4" lengthAdjust="spacingAndGlyphs">Connecticut</text>
<circle cx="325" cy="406.80" r="6.6" fill="#6491e6"/>
<text class="st" x="311.5" y="431.60" textLength="91.0" lengthAdjust="spacingAndGlyphs">New Jersey</text>
<circle cx="325" cy="427.10" r="6.6" fill="#6491e6"/>
<text class="st" x="311.5" y="451.90" textLength="68.4" lengthAdjust="spacingAndGlyphs">Vermont</text>
<circle cx="325" cy="447.40" r="6.6" fill="#6491e6"/>
<text class="st" x="311.5" y="472.20" textLength="79.8" lengthAdjust="spacingAndGlyphs">Minnesota</text>
<circle cx="325" cy="467.70" r="6.6" fill="#ffd700"/>
<text class="st" x="311.5" y="492.50" textLength="53.8" lengthAdjust="spacingAndGlyphs">Florida</text>
<circle cx="325" cy="488.00" r="6.6" fill="#ffd700"/>
<text class="st" x="311.5" y="512.80" textLength="157.8" lengthAdjust="spacingAndGlyphs">District of Columbia</text>
<circle cx="325" cy="508.30" r="6.6" fill="#6491e6"/>
<text class="st" x="311.5" y="533.10" textLength="102.0" lengthAdjust="spacingAndGlyphs">Rhode Island</text>
<circle cx="325" cy="528.60" r="6.6" fill="#6491e6"/>
<text class="st" x="311.5" y="553.40" textLength="36.4" lengthAdjust="spacingAndGlyphs">Iowa</text>
<circle cx="325" cy="548.90" r="6.6" fill="#ffd700"/>
<text class="st" x="311.5" y="573.70" textLength="125.0" lengthAdjust="spacingAndGlyphs">New Hampshire</text>
<circle cx="325" cy="569.20" r="6.6" fill="#ffd700"/>
<text class="st" x="311.5" y="594.00" textLength="48.2" lengthAdjust="spacingAndGlyphs">Illinois</text>
<circle cx="325" cy="589.50" r="6.6" fill="#6491e6"/>
<text class="st" x="311.5" y="614.30" textLength="114.8" lengthAdjust="spacingAndGlyphs">North Carolina</text>
<circle cx="325" cy="609.80" r="6.6" fill="#ffd700"/>
<text class="st" x="311.5" y="634.60" textLength="81.4" lengthAdjust="spacingAndGlyphs">Tennessee</text>
<circle cx="325" cy="630.10" r="6.6" fill="#ff0000"/>
<text class="st" x="311.5" y="654.90" textLength="63.4" lengthAdjust="spacingAndGlyphs">Missouri</text>
<circle cx="325" cy="650.40" r="6.6" fill="#ff0000"/>
<text class="st" x="311.5" y="675.20" textLength="73.4" lengthAdjust="spacingAndGlyphs">Kentucky</text>
<circle cx="325" cy="670.70" r="6.6" fill="#ff0000"/>
<text class="st" x="311.5" y="695.50" textLength="113.8" lengthAdjust="spacingAndGlyphs">Massachusetts</text>
<circle cx="325" cy="691.00" r="6.6" fill="#6491e6"/>
<text class="st" x="311.5" y="715.80" textLength="50.8" lengthAdjust="spacingAndGlyphs">Alaska</text>
<circle cx="325" cy="711.30" r="6.6" fill="#ff0000"/>
<text class="st" x="311.5" y="736.10" textLength="61.8" lengthAdjust="spacingAndGlyphs">Georgia</text>
<circle cx="325" cy="731.60" r="6.6" fill="#ffd700"/>
<text class="st" x="311.5" y="756.40" textLength="105.4" lengthAdjust="spacingAndGlyphs">West Virginia</text>
<circle cx="325" cy="751.90" r="6.6" fill="#ff0000"/>
<text class="st" x="311.5" y="776.70" textLength="69.0" lengthAdjust="spacingAndGlyphs">Alabama</text>
<circle cx="325" cy="772.20" r="6.6" fill="#ff0000"/>
<text class="st" x="311.5" y="797.00" textLength="79.8" lengthAdjust="spacingAndGlyphs">Oklahoma</text>
<circle cx="325" cy="792.50" r="6.6" fill="#ff0000"/>
<text class="st" x="311.5" y="817.30" textLength="94.4" lengthAdjust="spacingAndGlyphs">Washington</text>
<circle cx="325" cy="812.80" r="6.6" fill="#6491e6"/>
<text class="st" x="311.5" y="837.60" textLength="71.8" lengthAdjust="spacingAndGlyphs">Maryland</text>
<circle cx="325" cy="833.10" r="6.6" fill="#6491e6"/>
<text class="st" x="311.5" y="857.90" textLength="54.4" lengthAdjust="spacingAndGlyphs">Kansas</text>
<circle cx="325" cy="853.40" r="6.6" fill="#ff0000"/>
<text class="st" x="311.5" y="878.20" textLength="60.2" lengthAdjust="spacingAndGlyphs">Arizona</text>
<circle cx="325" cy="873.70" r="6.6" fill="#ffd700"/>
<text class="st" x="311.5" y="898.50" textLength="43.4" lengthAdjust="spacingAndGlyphs">Idaho</text>
<circle cx="325" cy="894.00" r="6.6" fill="#ff0000"/>
<text class="st" x="311.5" y="918.80" textLength="67.8" lengthAdjust="spacingAndGlyphs">Montana</text>
<circle cx="325" cy="914.30" r="6.6" fill="#ff0000"/>
<text class="st" x="311.5" y="939.10" textLength="73.4" lengthAdjust="spacingAndGlyphs">Nebraska</text>
<circle cx="325" cy="934.60" r="6.6" fill="#ffd700"/>
<text class="st" x="311.5" y="959.40" textLength="56.2" lengthAdjust="spacingAndGlyphs">Indiana</text>
<circle cx="325" cy="954.90" r="6.6" fill="#ff0000"/>
<text class="st" x="311.5" y="979.70" textLength="75.8" lengthAdjust="spacingAndGlyphs">Wyoming</text>
<circle cx="325" cy="975.20" r="6.6" fill="#ff0000"/>
<text class="st" x="311.5" y="1000.00" textLength="72.4" lengthAdjust="spacingAndGlyphs">Colorado</text>
<circle cx="325" cy="995.50" r="6.6" fill="#6491e6"/>
<text class="st" x="311.5" y="1020.30" textLength="59.4" lengthAdjust="spacingAndGlyphs">Nevada</text>
<circle cx="325" cy="1015.80" r="6.6" fill="#ffd700"/>
<text class="st" x="311.5" y="1040.60" textLength="115.8" lengthAdjust="spacingAndGlyphs">South Carolina</text>
<circle cx="325" cy="1036.10" r="6.6" fill="#ff0000"/>
<text class="st" x="311.5" y="1060.90" textLength="74.0" lengthAdjust="spacingAndGlyphs">California</text>
<circle cx="325" cy="1056.40" r="6.6" fill="#6491e6"/>
<text class="st" x="311.5" y="1081.20" textLength="70.8" lengthAdjust="spacingAndGlyphs">Arkansas</text>
<circle cx="325" cy="1076.70" r="6.6" fill="#ff0000"/>
<text class="st" x="311.5" y="1101.50" textLength="77.0" lengthAdjust="spacingAndGlyphs">New York</text>
<circle cx="325" cy="1097.00" r="6.6" fill="#6491e6"/>
<text class="st" x="311.5" y="1121.80" textLength="44.4" lengthAdjust="spacingAndGlyphs">Texas</text>
<circle cx="325" cy="1117.30" r="6.6" fill="#ffd700"/>
<text class="st" x="311.5" y="1142.10" textLength="37.0" lengthAdjust="spacingAndGlyphs">Ohio</text>
<circle cx="325" cy="1137.60" r="6.6" fill="#ffd700"/>
<text class="st" x="311.5" y="1162.40" textLength="73.4" lengthAdjust="spacingAndGlyphs">Delaware</text>
<circle cx="325" cy="1157.90" r="6.6" fill="#6491e6"/>
<text class="st" x="311.5" y="1182.70" textLength="73.4" lengthAdjust="spacingAndGlyphs">Louisiana</text>
<circle cx="325" cy="1178.20" r="6.6" fill="#ff0000"/>
<text class="st" x="311.5" y="1203.00" textLength="59.0" lengthAdjust="spacingAndGlyphs">Oregon</text>
<circle cx="325" cy="1198.50" r="6.6" fill="#6491e6"/>
<text class="st" x="311.5" y="1223.30" textLength="107.4" lengthAdjust="spacingAndGlyphs">South Dakota</text>
<circle cx="325" cy="1218.80" r="6.6" fill="#ff0000"/>
<text class="st" x="311.5" y="1243.60" textLength="106.0" lengthAdjust="spacingAndGlyphs">North Dakota</text>
<circle cx="325" cy="1239.10" r="6.6" fill="#ff0000"/>
<text class="st" x="311.5" y="1263.90" textLength="82.4" lengthAdjust="spacingAndGlyphs">Mississippi</text>
<circle cx="325" cy="1259.40" r="6.6" fill="#ff0000"/>
<text class="st" x="311.5" y="1284.20" textLength="51.4" lengthAdjust="spacingAndGlyphs">Hawaii</text>
<circle cx="325" cy="1279.70" r="6.6" fill="#6491e6"/>
<text class="st" x="311.5" y="1304.50" textLength="36.4" lengthAdjust="spacingAndGlyphs">Utah</text>
<circle cx="325" cy="1300.00" r="6.6" fill="#ff0000"/>
<text class="st" x="311.5" y="1324.80" textLength="96.4" lengthAdjust="spacingAndGlyphs">New Mexico</text>
<circle cx="325" cy="1320.30" r="6.6" fill="#6491e6"/>
<text class="st" x="311.5" y="1345.10" textLength="55.4" lengthAdjust="spacingAndGlyphs">Virgina</text>
<circle cx="325" cy="1340.60" r="6.6" fill="#6491e6"/>
</g>
<text class="val" x="348.6" y="330.00" textLength="45.0" lengthAdjust="spacingAndGlyphs">-21.1%</text>
<text class="val" x="348.6" y="350.30" textLength="51.4" lengthAdjust="spacingAndGlyphs">-20.2%</text>
<text class="val" x="348.6" y="370.60" textLength="48.2" lengthAdjust="spacingAndGlyphs">-19.9%</text>
<text class="val" x="348.6" y="390.90" textLength="47.2" lengthAdjust="spacingAndGlyphs">-19.7%</text>
<text class="val" x="348.6" y="411.20" textLength="48.2" lengthAdjust="spacingAndGlyphs">-19.5%</text>
<text class="val" x="348.6" y="431.50" textLength="48.2" lengthAdjust="spacingAndGlyphs">-19.5%</text>
<text class="val" x="348.6" y="451.80" textLength="48.2" lengthAdjust="spacingAndGlyphs">-19.5%</text>
<text class="val" x="348.6" y="472.10" textLength="48.2" lengthAdjust="spacingAndGlyphs">-19.4%</text>
<text class="val" x="348.6" y="492.40" textLength="48.2" lengthAdjust="spacingAndGlyphs">-18.6%</text>
<text class="val" x="348.6" y="512.70" textLength="47.2" lengthAdjust="spacingAndGlyphs">-17.8%</text>
<text class="val" x="348.6" y="533.00" textLength="47.2" lengthAdjust="spacingAndGlyphs">-17.6%</text>
<text class="val" x="348.6" y="553.30" textLength="47.2" lengthAdjust="spacingAndGlyphs">-17.6%</text>
<text class="val" x="348.6" y="573.60" textLength="47.2" lengthAdjust="spacingAndGlyphs">-17.2%</text>
<text class="val" x="348.6" y="593.90" textLength="47.2" lengthAdjust="spacingAndGlyphs">-17.0%</text>
<text class="val" x="348.6" y="614.20" textLength="48.2" lengthAdjust="spacingAndGlyphs">-16.9%</text>
<text class="val" x="348.6" y="634.50" textLength="48.2" lengthAdjust="spacingAndGlyphs">-16.8%</text>
<text class="val" x="348.6" y="654.80" textLength="47.2" lengthAdjust="spacingAndGlyphs">-16.7%</text>
<text class="val" x="348.6" y="675.10" textLength="48.2" lengthAdjust="spacingAndGlyphs">-16.6%</text>
<text class="val" x="348.6" y="695.40" textLength="48.2" lengthAdjust="spacingAndGlyphs">-16.4%</text>
<text class="val" x="348.6" y="715.70" textLength="48.2" lengthAdjust="spacingAndGlyphs">-16.2%</text>
<text class="val" x="348.6" y="736.00" textLength="48.2" lengthAdjust="spacingAndGlyphs">-16.0%</text>
<text class="val" x="348.6" y="756.30" textLength="48.2" lengthAdjust="spacingAndGlyphs">-16.0%</text>
<text class="val" x="348.6" y="776.60" textLength="48.2" lengthAdjust="spacingAndGlyphs">-15.9%</text>
<text class="val" x="348.6" y="796.90" textLength="48.2" lengthAdjust="spacingAndGlyphs">-15.9%</text>
<text class="val" x="348.6" y="817.20" textLength="48.2" lengthAdjust="spacingAndGlyphs">-15.8%</text>
<text class="val" x="348.6" y="837.50" textLength="48.2" lengthAdjust="spacingAndGlyphs">-15.8%</text>
<text class="val" x="348.6" y="857.80" textLength="48.2" lengthAdjust="spacingAndGlyphs">-15.4%</text>
<text class="val" x="348.6" y="878.10" textLength="48.2" lengthAdjust="spacingAndGlyphs">-15.4%</text>
<text class="val" x="348.6" y="898.40" textLength="48.2" lengthAdjust="spacingAndGlyphs">-15.3%</text>
<text class="val" x="348.6" y="918.70" textLength="48.2" lengthAdjust="spacingAndGlyphs">-15.0%</text>
<text class="val" x="348.6" y="939.00" textLength="48.2" lengthAdjust="spacingAndGlyphs">-15.0%</text>
<text class="val" x="348.6" y="959.30" textLength="48.2" lengthAdjust="spacingAndGlyphs">-14.9%</text>
<text class="val" x="348.6" y="979.60" textLength="48.2" lengthAdjust="spacingAndGlyphs">-14.3%</text>
<text class="val" x="348.6" y="999.90" textLength="48.2" lengthAdjust="spacingAndGlyphs">-14.3%</text>
<text class="val" x="348.6" y="1020.20" textLength="48.2" lengthAdjust="spacingAndGlyphs">-14.3%</text>
<text class="val" x="348.6" y="1040.50" textLength="48.2" lengthAdjust="spacingAndGlyphs">-14.2%</text>
<text class="val" x="348.6" y="1060.80" textLength="48.2" lengthAdjust="spacingAndGlyphs">-13.6%</text>
<text class="val" x="348.6" y="1081.10" textLength="48.2" lengthAdjust="spacingAndGlyphs">-13.6%</text>
<text class="val" x="348.6" y="1101.40" textLength="48.2" lengthAdjust="spacingAndGlyphs">-13.4%</text>
<text class="val" x="348.6" y="1121.70" textLength="48.2" lengthAdjust="spacingAndGlyphs">-13.4%</text>
<text class="val" x="348.6" y="1142.00" textLength="48.2" lengthAdjust="spacingAndGlyphs">-13.2%</text>
<text class="val" x="348.6" y="1162.30" textLength="48.2" lengthAdjust="spacingAndGlyphs">-13.0%</text>
<text class="val" x="348.6" y="1182.60" textLength="48.2" lengthAdjust="spacingAndGlyphs">-12.4%</text>
<text class="val" x="348.6" y="1202.90" textLength="48.2" lengthAdjust="spacingAndGlyphs">-12.0%</text>
<text class="val" x="348.6" y="1223.20" textLength="45.0" lengthAdjust="spacingAndGlyphs">-11.4%</text>
<text class="val" x="348.6" y="1243.50" textLength="45.0" lengthAdjust="spacingAndGlyphs">-11.4%</text>
<text class="val" x="348.6" y="1263.80" textLength="45.0" lengthAdjust="spacingAndGlyphs">-11.3%</text>
<text class="val" x="348.6" y="1284.10" textLength="48.2" lengthAdjust="spacingAndGlyphs">-10.5%</text>
<text class="val" x="348.6" y="1304.40" textLength="48.2" lengthAdjust="spacingAndGlyphs">-10.2%</text>
<text class="val" x="348.6" y="1324.70" textLength="42.4" lengthAdjust="spacingAndGlyphs">-9.6%</text>
<text class="val" x="348.6" y="1345.00" textLength="42.4" lengthAdjust="spacingAndGlyphs">-9.6%</text>
<circle cx="741.8" cy="326" r="10.2" fill="#ff0000" stroke="#000" stroke-width="1.3"/>
<text class="lg" x="763.4" y="330.2" textLength="135.2" lengthAdjust="spacingAndGlyphs">Red (Republican)</text>
<text class="lv" x="764.2" y="359.8" fill="#f25d5d" stroke="#f25d5d" stroke-width="0.4" textLength="60" lengthAdjust="spacingAndGlyphs">-14.4%</text>
<circle cx="741.8" cy="416" r="10.2" fill="#6491e6" stroke="#000" stroke-width="1.3"/>
<text class="lg" x="763.4" y="420.2" textLength="128.6" lengthAdjust="spacingAndGlyphs">Blue (Democrat)</text>
<text class="lv" x="764.2" y="449.8" fill="#6491e6" stroke="#6491e6" stroke-width="0.4" textLength="54" lengthAdjust="spacingAndGlyphs">-15.1%</text>
<circle cx="741.8" cy="506" r="10.2" fill="#ffd700" stroke="#000" stroke-width="1.3"/>
<text class="lg" x="763.4" y="510.2" textLength="137.4" lengthAdjust="spacingAndGlyphs">2020 Swing State</text>
<text class="lv" x="764.2" y="539.8" fill="#ffd700" stroke="#ffd700" stroke-width="0.4" textLength="57.5" lengthAdjust="spacingAndGlyphs">-17.2%</text>
<text x="811.5" y="1363" font-size="14.5" fill="#6a96e6" textLength="155" lengthAdjust="spacingAndGlyphs">pornhub.com/insights</text>
</svg></body></html>
